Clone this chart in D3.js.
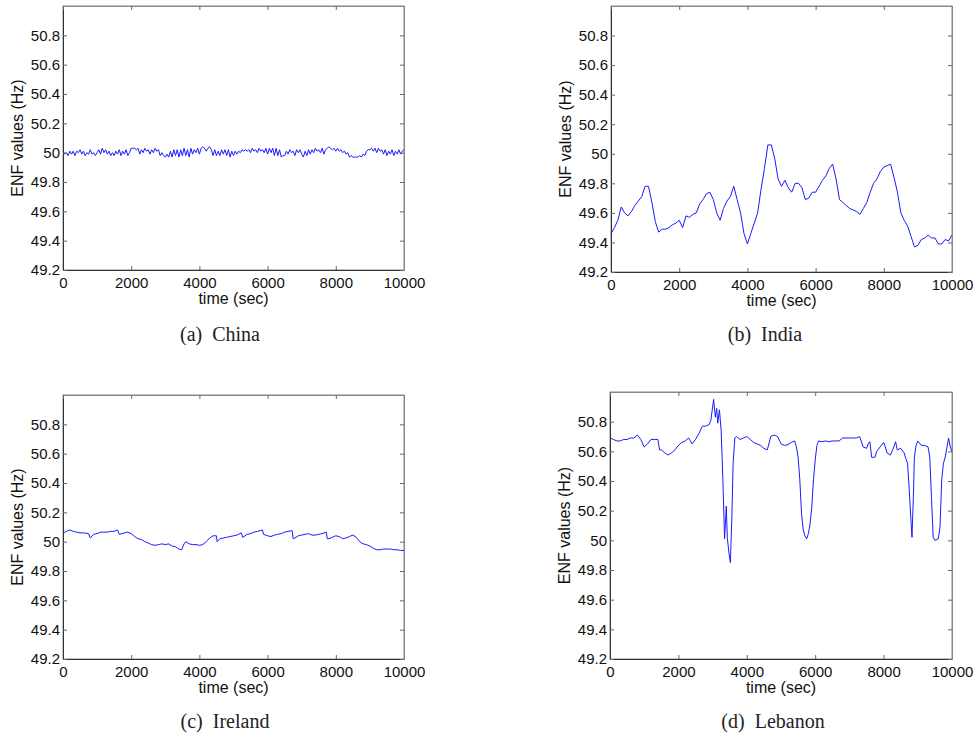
<!DOCTYPE html>
<html lang="en">
<head>
<meta charset="UTF-8">
<title>ENF values</title>
<script src="https://d3js.org/d3.v7.min.js"></script>
<style>
  body { margin: 0; background: #fff; }
  svg text { font-family: "Liberation Sans", Arial, sans-serif; }
</style>
</head>
<body>
<svg id="chart"></svg>
<script>
const width = 974, height = 735;

// ---- data ----
const yTicks = [49.2, 49.4, 49.6, 49.8, 50, 50.2, 50.4, 50.6, 50.8];
const xTicks = [0, 2000, 4000, 6000, 8000, 10000];

// China, one value every 50 s
const chinaStep = 50;
const chinaHz = [
  50.01, 49.99, 50.00, 49.98, 50.01, 49.99, 50.01, 49.98, 50.01, 50.00, 50.02, 49.99, 50.01, 49.98, 50.00, 49.99, 50.02, 49.99, 50.00, 49.98,
  50.00, 50.02, 49.99, 50.03, 50.00, 50.02, 49.99, 50.01, 49.98, 50.00, 49.98, 50.01, 49.99, 50.02, 49.98, 50.01, 49.99, 50.02, 49.98, 50.00,
  50.03, 50.03, 50.03, 50.02, 50.03, 49.99, 50.02, 50.00, 50.03, 50.01, 50.02, 49.99, 50.02, 50.00, 50.03, 50.01, 50.02, 49.98, 50.00, 49.98,
  49.97, 49.99, 49.97, 50.01, 49.97, 50.02, 49.98, 50.02, 49.97, 50.02, 49.98, 50.03, 49.98, 50.02, 49.97, 50.03, 49.99, 50.02, 50.00, 50.03,
  49.99, 50.03, 50.04, 50.03, 50.01, 50.03, 50.04, 50.02, 49.98, 50.02, 49.98, 50.01, 49.98, 50.02, 49.99, 50.02, 49.98, 50.02, 49.97, 50.01,
  49.98, 50.01, 49.99, 50.01, 50.00, 50.02, 50.01, 50.02, 50.01, 50.02, 50.00, 50.03, 50.01, 50.02, 50.00, 50.03, 50.01, 50.02, 50.00, 50.03,
  49.99, 50.03, 50.00, 50.03, 49.98, 50.03, 49.98, 50.02, 49.97, 49.98, 49.98, 50.01, 49.99, 50.02, 50.00, 50.01, 49.98, 50.02, 50.00, 50.02,
  49.99, 49.97, 50.01, 49.98, 50.02, 49.99, 50.02, 50.00, 50.03, 50.01, 50.02, 50.00, 50.03, 49.99, 50.02, 50.03, 50.04, 50.03, 50.02, 50.03,
  50.01, 50.03, 50.01, 50.02, 50.00, 50.01, 49.99, 50.00, 49.97, 49.98, 49.97, 49.97, 49.97, 49.97, 49.98, 49.97, 49.99, 49.98, 50.01, 50.02,
  50.02, 50.03, 50.01, 50.03, 50.00, 50.03, 50.01, 50.02, 49.99, 50.02, 49.98, 50.01, 49.99, 50.02, 49.98, 50.01, 49.99, 50.02, 49.99, 50.01, 50.02
];

// India, one value every 100 s
const indiaStep = 100;
const indiaHz = [
  49.46, 49.50, 49.55, 49.64, 49.60, 49.58, 49.61, 49.65, 49.68, 49.71,
  49.78, 49.78, 49.67, 49.54, 49.47, 49.49, 49.49, 49.50, 49.52, 49.53,
  49.55, 49.50, 49.58, 49.57, 49.59, 49.60, 49.66, 49.69, 49.73, 49.74,
  49.69, 49.60, 49.55, 49.63, 49.68, 49.71, 49.78, 49.69, 49.60, 49.46,
  49.39, 49.46, 49.53, 49.60, 49.76, 49.90, 50.06, 50.06, 49.97, 49.83,
  49.78, 49.82, 49.77, 49.74, 49.80, 49.80, 49.77, 49.69, 49.70, 49.74,
  49.74, 49.78, 49.82, 49.85, 49.90, 49.93, 49.83, 49.69, 49.67, 49.65,
  49.63, 49.62, 49.61, 49.59, 49.63, 49.67, 49.74, 49.80, 49.83, 49.88,
  49.91, 49.92, 49.93, 49.84, 49.74, 49.60, 49.55, 49.51, 49.44, 49.37,
  49.38, 49.42, 49.43, 49.45, 49.43, 49.43, 49.39, 49.39, 49.42, 49.41, 49.45
];

// Ireland, [time, Hz]
const irelandData = [
  [0, 50.06], [100, 50.07], [200, 50.08], [300, 50.07], [400, 50.065], [500, 50.06], [600, 50.06], [750, 50.055],
  [800, 50.025], [900, 50.05], [1000, 50.055], [1100, 50.065], [1200, 50.065], [1300, 50.065], [1400, 50.07],
  [1500, 50.07], [1600, 50.08], [1650, 50.05], [1800, 50.06], [1900, 50.065], [2000, 50.055], [2100, 50.035],
  [2200, 50.02], [2300, 50.015], [2400, 50.0], [2500, 49.99], [2600, 49.98], [2700, 49.975], [2800, 49.98],
  [2900, 49.985], [3000, 49.98], [3100, 49.985], [3200, 49.97], [3300, 49.965], [3400, 49.95], [3480, 49.945],
  [3550, 49.985], [3600, 50.0], [3700, 49.985], [3800, 49.98], [3900, 49.98], [4000, 49.975], [4100, 49.98],
  [4200, 50.0], [4300, 50.025], [4400, 50.04], [4500, 50.04], [4520, 50.0], [4600, 50.02], [4700, 50.025],
  [4800, 50.03], [4900, 50.035], [5000, 50.04], [5100, 50.045], [5230, 50.06], [5270, 50.03], [5400, 50.05],
  [5500, 50.055], [5600, 50.065], [5700, 50.07], [5850, 50.08], [5880, 50.05], [6000, 50.04], [6100, 50.035],
  [6200, 50.045], [6300, 50.05], [6400, 50.055], [6500, 50.065], [6600, 50.07], [6720, 50.075], [6750, 50.02],
  [6800, 50.025], [6900, 50.04], [7000, 50.045], [7100, 50.05], [7200, 50.055], [7300, 50.045], [7400, 50.045],
  [7500, 50.05], [7600, 50.055], [7720, 50.065], [7750, 50.02], [7800, 50.02], [7900, 50.03], [8000, 50.04],
  [8100, 50.035], [8200, 50.02], [8300, 50.025], [8400, 50.035], [8500, 50.045], [8600, 50.03], [8700, 50.0],
  [8800, 49.985], [8900, 49.98], [9000, 49.97], [9100, 49.955], [9200, 49.945], [9300, 49.945], [9400, 49.95],
  [9500, 49.95], [9600, 49.95], [9700, 49.945], [9800, 49.945], [9900, 49.94], [10000, 49.94]
];

// Lebanon, [time, Hz]
const lebanonData = [
  [0, 50.69], [100, 50.68], [200, 50.67], [300, 50.67], [400, 50.68], [500, 50.68], [600, 50.69], [700, 50.69],
  [800, 50.71], [900, 50.68], [1000, 50.63], [1100, 50.65], [1200, 50.68], [1300, 50.68], [1400, 50.68],
  [1450, 50.61], [1500, 50.61], [1600, 50.59], [1700, 50.575], [1800, 50.59], [1900, 50.61], [2000, 50.64],
  [2100, 50.66], [2200, 50.67], [2300, 50.69], [2400, 50.65], [2500, 50.68], [2600, 50.72], [2700, 50.77],
  [2800, 50.77], [2900, 50.78], [2950, 50.81], [3030, 50.95], [3080, 50.83], [3120, 50.89], [3150, 50.79],
  [3200, 50.88], [3250, 50.74], [3300, 50.41], [3350, 50.01], [3400, 50.23], [3430, 50.02], [3480, 49.91],
  [3520, 49.85], [3560, 50.13], [3600, 50.52], [3650, 50.69], [3700, 50.70], [3800, 50.68], [3900, 50.69],
  [4000, 50.70], [4100, 50.68], [4200, 50.66], [4300, 50.65], [4400, 50.64], [4500, 50.62], [4600, 50.61],
  [4700, 50.70], [4800, 50.71], [4900, 50.70], [5000, 50.65], [5100, 50.64], [5200, 50.645], [5300, 50.66],
  [5400, 50.67], [5450, 50.63], [5500, 50.56], [5550, 50.41], [5600, 50.18], [5650, 50.07], [5700, 50.03],
  [5750, 50.01], [5800, 50.045], [5850, 50.11], [5900, 50.225], [5950, 50.41], [6000, 50.54], [6050, 50.64],
  [6100, 50.67], [6200, 50.665], [6300, 50.67], [6400, 50.665], [6500, 50.67], [6600, 50.67], [6700, 50.67],
  [6800, 50.69], [6900, 50.69], [7000, 50.69], [7100, 50.69], [7200, 50.69], [7300, 50.70], [7400, 50.63],
  [7500, 50.62], [7550, 50.65], [7600, 50.665], [7650, 50.56], [7750, 50.56], [7800, 50.60], [7900, 50.63],
  [8000, 50.66], [8050, 50.63], [8100, 50.59], [8200, 50.575], [8300, 50.63], [8350, 50.665], [8400, 50.61],
  [8500, 50.62], [8600, 50.59], [8650, 50.55], [8700, 50.52], [8750, 50.34], [8800, 50.135], [8830, 50.02],
  [8870, 50.29], [8900, 50.56], [8950, 50.64], [9000, 50.67], [9100, 50.64], [9200, 50.64], [9300, 50.63],
  [9350, 50.56], [9400, 50.29], [9450, 50.02], [9500, 50.0], [9600, 50.01], [9650, 50.09], [9700, 50.41],
  [9750, 50.52], [9800, 50.56], [9900, 50.69], [9950, 50.63], [10000, 50.60]
];

const panels = [
  { caption: "(a)  China",   data: chinaHz.map((v, i) => [i * chinaStep, v]), left: 63,  top: 6,   right: 404, bottom: 270, capX: 220, capY: 341 },
  { caption: "(b)  India",   data: indiaHz.map((v, i) => [i * indiaStep, v]), left: 611, top: 6,   right: 952, bottom: 272, capX: 765, capY: 341 },
  { caption: "(c)  Ireland", data: irelandData,                               left: 63,  top: 395, right: 404, bottom: 659, capX: 225, capY: 728 },
  { caption: "(d)  Lebanon", data: lebanonData,                               left: 610, top: 392, right: 952, bottom: 659, capX: 773, capY: 728 }
];

const svg = d3.select("#chart")
  .attr("width", width)
  .attr("height", height);

const fmtY = d => String(+d.toFixed(1));

panels.forEach(p => {
  const x = d3.scaleLinear().domain([0, 10000]).range([p.left, p.right]);
  const y = d3.scaleLinear().domain([49.2, 51]).range([p.bottom, p.top]);
  const g = svg.append("g");

  // box
  g.append("rect")
    .attr("x", p.left).attr("y", p.top)
    .attr("width", p.right - p.left).attr("height", p.bottom - p.top)
    .attr("fill", "none").attr("stroke", "#888").attr("stroke-width", 1);

  // the data line
  g.append("path")
    .datum(p.data)
    .attr("fill", "none")
    .attr("stroke", "#1a1aff")
    .attr("stroke-width", 1)
    .attr("d", d3.line().x(d => x(d[0])).y(d => y(d[1])));

  // axes with inward ticks (mirrored on top/right)
  const bottom = g.append("g").attr("transform", `translate(0,${p.bottom})`)
    .call(d3.axisBottom(x).tickValues(xTicks).tickSizeInner(-4).tickSizeOuter(0).tickPadding(7).tickFormat(d3.format("d")));
  const leftAx = g.append("g").attr("transform", `translate(${p.left},0)`)
    .call(d3.axisLeft(y).tickValues(yTicks).tickSizeInner(-4).tickSizeOuter(0).tickPadding(3).tickFormat(fmtY));
  g.append("g").attr("transform", `translate(0,${p.top})`)
    .call(d3.axisTop(x).tickValues(xTicks).tickSizeInner(-4).tickSizeOuter(0).tickFormat(""));
  g.append("g").attr("transform", `translate(${p.right},0)`)
    .call(d3.axisRight(y).tickValues(yTicks).tickSizeInner(-4).tickSizeOuter(0).tickFormat(""));

  g.selectAll(".domain").attr("stroke", "#888");
  g.selectAll(".tick line").attr("stroke", "#666");
  bottom.select(".domain").attr("stroke", "#333");
  leftAx.select(".domain").attr("stroke", "#333");
  g.selectAll(".tick text").attr("font-size", 15).attr("fill", "#111")
    .attr("font-family", "'Liberation Sans', Arial, sans-serif");

  // axis titles
  g.append("text")
    .attr("x", (p.left + p.right) / 2).attr("y", p.bottom + 34)
    .attr("text-anchor", "middle").attr("font-size", 16).attr("fill", "#111")
    .text("time (sec)");
  g.append("text")
    .attr("transform", `translate(${p.left - 40},${(p.top + p.bottom) / 2}) rotate(-90)`)
    .attr("text-anchor", "middle").attr("font-size", 16).attr("fill", "#111")
    .text("ENF values (Hz)");

  // caption (keep the double space)
  g.append("text")
    .attr("x", p.capX).attr("y", p.capY)
    .attr("text-anchor", "middle")
    .style("font-family", "'Liberation Serif', 'Times New Roman', serif")
    .style("white-space", "pre")
    .attr("font-size", 20).attr("fill", "#222")
    .text(p.caption);
});
</script>
</body>
</html>
